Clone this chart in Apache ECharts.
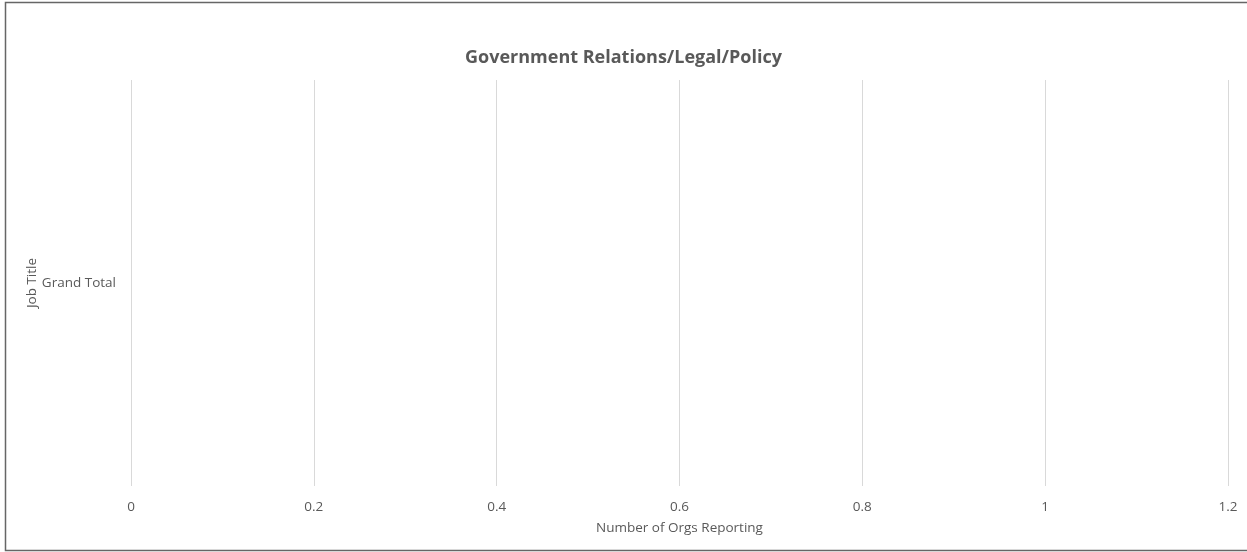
<!DOCTYPE html>
<html>
<head>
<meta charset="utf-8">
<script src="https://cdn.jsdelivr.net/npm/echarts@6/dist/echarts.min.js"></script>
<style>
html,body{margin:0;padding:0;background:#fff;}
#chart{width:1247px;height:552px;}
</style>
</head>
<body>
<div id="chart"></div>
<script>
const titleText = 'Government Relations/Legal/Policy';
const categories = ['Grand Total'];
const orgsReporting = [0];
const xMin = 0, xMax = 1.2, xStep = 0.2;

const chart = echarts.init(document.getElementById('chart'), null, {renderer: 'canvas'});
const font = '"Open Sans", "Liberation Sans", sans-serif';
chart.setOption({
  animation: false,
  backgroundColor: '#ffffff',
  title: {
    text: titleText,
    left: 'center',
    top: 44,
    textStyle: {fontFamily: font, fontSize: 18, fontWeight: 'bold', color: '#595959'}
  },
  graphic: [{
    type: 'rect',
    shape: {x: 5.5, y: 2.5, width: 1260, height: 548},
    style: {fill: 'none', stroke: '#666666', lineWidth: 1.5},
    silent: true
  }],
  grid: {left: 131, right: 19, top: 80, bottom: 66, containLabel: false},
  xAxis: {
    type: 'value',
    min: xMin, max: xMax, interval: xStep,
    name: 'Number of Orgs Reporting',
    nameLocation: 'middle',
    nameGap: 35,
    nameTextStyle: {fontFamily: font, fontSize: 13.5, color: '#595959'},
    axisLine: {show: false},
    axisTick: {show: false},
    axisLabel: {fontFamily: font, fontSize: 13.5, color: '#595959', margin: 14,
      formatter: v => String(+v.toFixed(1))},
    splitLine: {show: true, lineStyle: {color: '#d9d9d9', width: 1}}
  },
  yAxis: {
    type: 'category',
    data: categories,
    name: 'Job Title',
    nameLocation: 'middle',
    nameGap: 92,
    nameMoveOverlap: false,
    nameRotate: 90,
    nameTextStyle: {fontFamily: font, fontSize: 13.5, color: '#595959'},
    axisLine: {show: false},
    axisTick: {show: false},
    axisLabel: {fontFamily: font, fontSize: 13.5, color: '#595959', margin: 15}
  },
  series: [{
    type: 'bar',
    data: orgsReporting,
    barWidth: '60%',
    itemStyle: {color: '#4472c4'}
  }]
});
</script>
</body>
</html>
